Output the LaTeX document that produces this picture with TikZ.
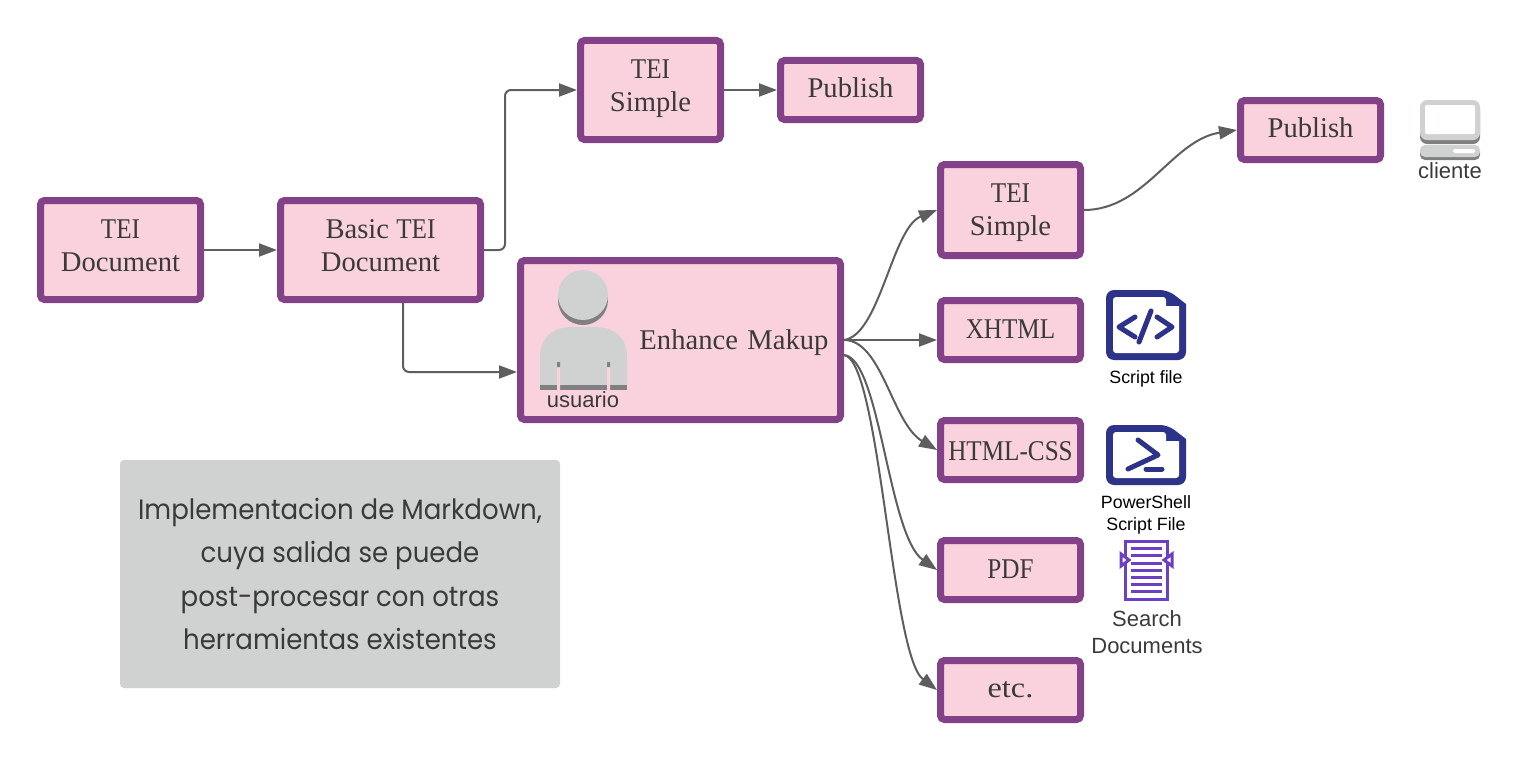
\documentclass[tikz,border=0pt]{standalone}
\usepackage{fontspec}
\setmainfont{Liberation Serif}
\newfontfamily\iconfont{Liberation Sans}
\newfontfamily\notefont[FakeStretch=0.93]{Poppins}
\newfontfamily\capfont[FakeStretch=0.88]{Liberation Serif}
\newfontfamily\widefont[FakeStretch=1.13]{Liberation Serif}
\usetikzlibrary{arrows.meta}
\definecolor{boxline}{HTML}{834187}
\definecolor{boxfill}{HTML}{F9D2DE}
\definecolor{inkgrey}{HTML}{3A3A3A}
\definecolor{linkgrey}{HTML}{5E5E5E}
\definecolor{lightgrey}{HTML}{D0D2D2}
\definecolor{darkgrey}{HTML}{808080}
\definecolor{iconblue}{HTML}{2C3388}
\definecolor{iconviolet}{HTML}{6C3FC5}
\newcommand{\textlift}[1]{\rule[-#1]{0pt}{0pt}}
\newcommand{\textdrop}[1]{\rule{0pt}{#1}}
\tikzset{
  docbox/.style={draw=boxline,fill=boxfill,line width=7pt,rounded corners=4pt,
    inner sep=0pt,align=center,text=inkgrey,minimum width=140pt,minimum height=59pt,
    font=\fontsize{28.6}{33}\selectfont},
  link/.style={draw=linkgrey,line width=2pt,rounded corners=6pt,
    -{Triangle[length=18pt,width=13pt]}},
  iconlabel/.style={inner sep=0pt,align=center,text=black,
    font=\iconfont\fontsize{17.8}{22}\selectfont},
  greylabel/.style={inner sep=0pt,align=center,text=inkgrey,
    font=\iconfont\fontsize{22}{27}\selectfont},
  codemark/.style={draw=iconblue,line width=5pt,line cap=round,line join=round},
}
\begin{document}
\begin{tikzpicture}[x=1pt,y=-1pt]
         \useasboundingbox (0,0) rectangle (1520,760);
         \node[docbox,minimum width=160pt,minimum height=99pt] (teidoc) at (120.5,250) {{\capfont TEI}\\Document\textlift{8pt}};
         \node[docbox,minimum width=200pt,minimum height=99pt] (basic) at (380.5,250) {Basic {\capfont TEI}\\Document\textlift{8pt}};
         \node[docbox,minimum height=99pt] (simpleA) at (650.5,90) {{\capfont TEI}\\Simple\textlift{8pt}};
         \node[docbox] (publishA) at (850.5,90) {Publish\textlift{4pt}};
         \node[docbox,minimum width=320pt,minimum height=159pt,text width=296pt,align=right] (enhance) at (680.5,340) {\textdrop{25pt}Enhance Makup};
         \node[docbox,minimum height=91pt] (simpleB) at (1010.5,210) {\textdrop{24pt}{\capfont TEI}\\Simple};
         \node[docbox] (publishB) at (1310.5,130) {Publish\textlift{4pt}};
         \node[docbox] (xhtml) at (1010.5,330) {{\capfont XHTML}\textlift{2pt}};
         \node[docbox] (htmlcss) at (1010.5,450) {\textdrop{21pt}{\capfont HTML-CSS}};
         \node[docbox] (pdf) at (1010.5,570) {{\capfont PDF}\textlift{2pt}};
         \node[docbox] (etc) at (1010.5,690) {{\widefont etc.}};
         \coordinate (basicout) at (403,303);
         \coordinate (enhancein) at (517,372);
         \coordinate (enhanceout) at (844,355);
         \coordinate (xhtmlin) at (937,340);
         \draw[link] (teidoc) -- (basic);
         \draw[link] (basic.east) -- (505,250) -- (505,90) -- (simpleA.west);
         \draw[link] (simpleA) -- (publishA);
         \draw[link] (basicout) -- (403,372) -- (enhancein);
         \draw[link] (enhance.east) -- (xhtmlin);
         \draw[link] (enhance.east) .. controls (880,335) and (892,228) .. (simpleB.west);
         \draw[link] (enhance.east) .. controls (882,340) and (892,423) .. (htmlcss.west);
         \draw[link] (enhanceout) .. controls (880,358) and (888,535) .. (pdf.west);
         \draw[link] (enhanceout) .. controls (880,360) and (891,655) .. (etc.west);
         \draw[link] (simpleB.east) .. controls (1145,210) and (1172,140) .. (publishB.west);
         % grey note
         \node[fill=lightgrey,rounded corners=4pt,minimum width=440pt,minimum height=228pt,
           inner sep=0pt,text=inkgrey,align=center,
           font=\notefont\fontsize{28}{43.3}\selectfont] (note) at (340,574)
           {Implementacion de Markdown,\\cuya salida se puede\\post-procesar con otras\\herramientas existentes};
         % usuario
         \fill[darkgrey] (583,300) circle (25);
         \fill[lightgrey] (583,295) circle (25);
         \fill[lightgrey] (540,386) -- (540,357) .. controls (540,338) and (552,327) .. (572,327)
           -- (595,327) .. controls (615,327) and (627,338) .. (627,357) -- (627,386) -- cycle;
         \fill[darkgrey] (540,385) rectangle (627,390);
         \fill[boxfill] (557,367) rectangle (560,390) (607,367) rectangle (610,390);
         \fill[darkgrey] (557,362) rectangle (560,367) (607,362) rectangle (610,367);
         \node[greylabel] (usuario) at (583,400) {usuario};
         % cliente
         \fill[darkgrey,rounded corners=7pt] (1420,104) rectangle (1480,144);
         \fill[lightgrey,rounded corners=7pt] (1420,100) rectangle (1480,140);
         \fill[white,rounded corners=2pt] (1425,105) rectangle (1475,134);
         \fill[darkgrey,rounded corners=5pt] (1420,148) rectangle (1480,160);
         \fill[lightgrey,rounded corners=5pt] (1420,145) rectangle (1480,157);
         \fill[white,rounded corners=1.5pt] (1453,149) rectangle (1475,153);
         \node[greylabel] (cliente) at (1450,171) {cliente};
         % script file
         \fill[iconblue,rounded corners=8pt] (1106,290) -- (1168,290) [sharp corners] -- (1186,304)
           [rounded corners=8pt] -- (1186,360) -- (1106,360) -- cycle;
         \fill[white,rounded corners=3pt] (1113,297) -- (1166,297) [sharp corners] -- (1166,306) -- (1179,306)
           [rounded corners=3pt] -- (1179,353) -- (1113,353) -- cycle;
         \draw[codemark] (1135,317) -- (1119,327) -- (1135,337);
         \draw[codemark] (1151,311) -- (1139,342);
         \draw[codemark] (1157,317) -- (1172,327) -- (1157,337);
         \node[iconlabel] (scriptfile) at (1146,379) {Script file};
         % powershell file
         \fill[iconblue,rounded corners=8pt] (1106,425) -- (1168,425) [sharp corners] -- (1186,439)
           [rounded corners=8pt] -- (1186,485) -- (1106,485) -- cycle;
         \fill[white,rounded corners=3pt] (1113,432) -- (1166,432) [sharp corners] -- (1166,441) -- (1179,441)
           [rounded corners=3pt] -- (1179,478) -- (1113,478) -- cycle;
         \draw[codemark] (1138,440) -- (1158,455) -- (1128,469);
         \draw[codemark] (1146,469) -- (1162,469);
         \node[iconlabel] (powershell) at (1146,515) {PowerShell\\Script File};
         % search documents
         \draw[iconviolet,line width=3pt] (1125.5,541.5) rectangle (1167,599);
         \foreach \liney in {548,555,563,570,577,584,591}
           \draw[iconviolet,line width=3pt] (1131,\liney) -- (1162,\liney);
         \draw[iconviolet,fill=white,line width=3pt] (1121,554) -- (1121,566) -- (1129,560) -- cycle;
         \draw[iconviolet,fill=white,line width=3pt] (1172,554) -- (1172,566) -- (1164,560) -- cycle;
         \node[greylabel] (search) at (1147,632.5) {Search\\Documents};
\end{tikzpicture}
\end{document}
